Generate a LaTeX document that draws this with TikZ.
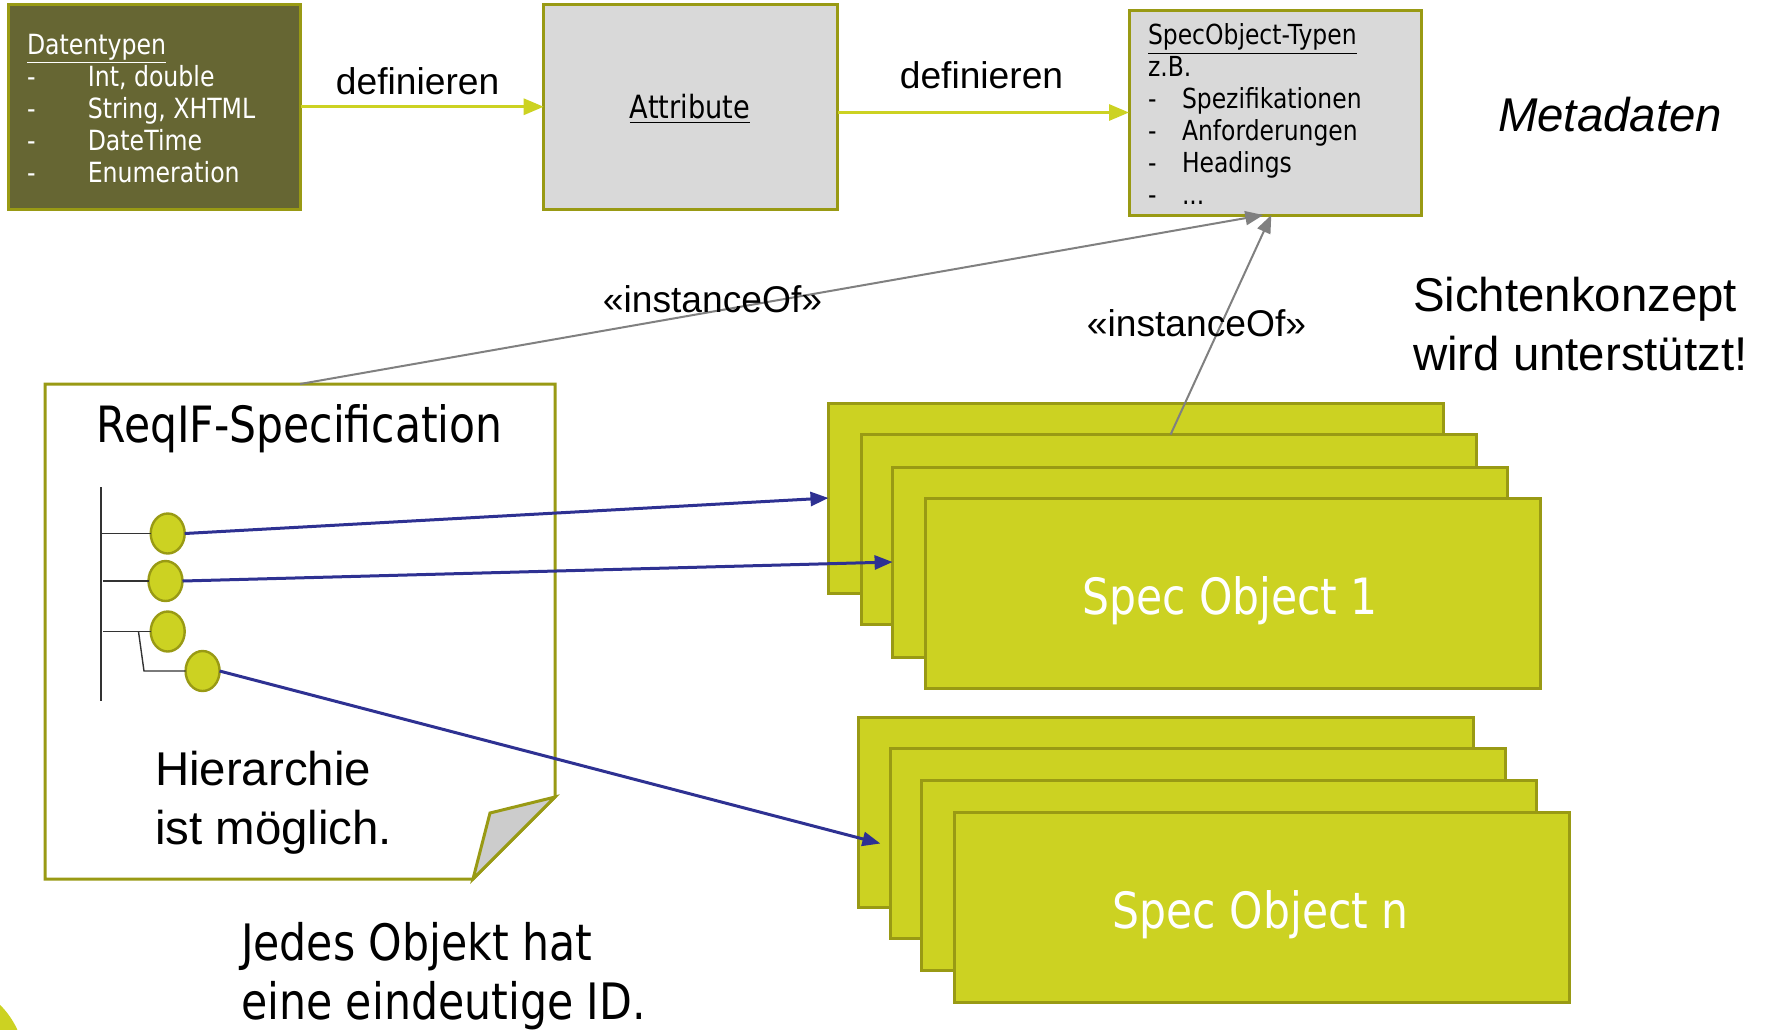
\documentclass[tikz,border=0pt]{standalone}
\usepackage{fontspec}
\setmainfont{Liberation Sans}
\newfontfamily\tah{DejaVu Sans}[FakeStretch=0.85]
\usetikzlibrary{arrows.meta,shapes.geometric}
\definecolor{olivedark}{HTML}{666633}
\definecolor{oliveline}{HTML}{999A14}
\definecolor{lime}{HTML}{CCD222}
\definecolor{boxgray}{HTML}{D9D9D9}
\definecolor{foldgray}{HTML}{CCCCCC}
\definecolor{arrgray}{HTML}{808080}
\definecolor{navy}{HTML}{2E3192}
\definecolor{treegray}{HTML}{333333}
\begin{document}
\begin{tikzpicture}[x=0.5pt,y=-0.5pt,
  every node/.style={inner sep=0pt, outer sep=0pt},
  dtbox/.style={draw=oliveline, fill=olivedark, line width=1.5pt, minimum width=146.25pt, minimum height=102.25pt, anchor=north west},
  graybox/.style={draw=oliveline, fill=boxgray, line width=1.5pt, anchor=north west},
  sobox/.style={draw=oliveline, fill=lime, line width=1.5pt, minimum width=307.5pt, minimum height=95pt, anchor=north west},
  bubble/.style={ellipse, draw=oliveline, fill=lime, line width=1.2pt, minimum width=17pt, minimum height=20pt},
  defarrow/.style={draw=lime, line width=1.5pt, -{Triangle[length=10pt,width=8pt]}},
  instarrow/.style={draw=arrgray, line width=1pt, -{Triangle[length=9pt,width=7pt]}},
  linkarrow/.style={draw=navy, line width=1.5pt, -{Triangle[length=9pt,width=7pt]}},
  treeline/.style={draw=treegray, line width=0.7pt},
  noteline/.style={draw=oliveline, line width=1.5pt},
  arialbig/.style={font=\fontsize{23.7pt}{29.2pt}\selectfont},
  arialmid/.style={font=\fontsize{18.6pt}{22pt}\selectfont},
  sotext/.style={text=white, font=\tah\fontsize{25pt}{28pt}\selectfont}
]
\useasboundingbox (0,0) rectangle (1765,1029);
\fill[white] (0,0) rectangle (1765,1029);
\begin{scope}
  \clip (0,0) rectangle (1765,1029);
  \fill[lime] (-60,1065) circle[radius=42.5pt];
\end{scope}

% top boxes
\node[dtbox] (dt) at (8,4.5) {};
\node[anchor=north west, text=white, align=left, font=\tah\fontsize{13.9pt}{16pt}\selectfont] (dttext) at (27,34)
  {\underline{Datentypen}\\\makebox[30.4pt][l]{-}Int, double\\\makebox[30.4pt][l]{-}String, XHTML\\\makebox[30.4pt][l]{-}DateTime\\\makebox[30.4pt][l]{-}Enumeration};
\node[graybox, minimum width=146.9pt, minimum height=102.25pt] (attr) at (543.7,4.5) {};
\node[font=\tah\fontsize{16pt}{20pt}\selectfont] (attrtext) at (690,109) {\underline{Attribute}};
\node[graybox, minimum width=146.3pt, minimum height=102.5pt] (sot) at (1129,10) {};
\node[anchor=north west, align=left, font=\tah\fontsize{13.8pt}{16pt}\selectfont] (sottext) at (1148,23.5)
  {\underline{SpecObject-Typen}\\z.B.\\\makebox[17pt][l]{-}Spezifikationen\\\makebox[17pt][l]{-}Anforderungen\\\makebox[17pt][l]{-}Headings\\\makebox[17pt][l]{-}...};

\draw[defarrow] (dt.east) -- (attr.west);
\draw[defarrow] (attr.east |- sot.west) -- (sot.west);
\node[arialmid] (def1) at (417.6,81) {definieren};
\node[arialmid] (def2) at (981.5,75.4) {definieren};

\node[arialbig] (meta) at (1610,115) {\itshape Metadaten};
\node[arialbig, anchor=west, align=left] (sicht) at (1413,324) {Sichtenkonzept\\wird unterstützt!};

% note
\node[minimum width=255pt, minimum height=247.5pt, anchor=north west] (spec) at (45,384) {};
\coordinate (fold1) at (555,797);
\coordinate (fold2) at (473,879);
\coordinate (foldin) at (490,813);
\draw[noteline, fill=white] (spec.north west) -- (spec.north east) -- (fold1) -- (fold2) -- (spec.south west) -- cycle;
\filldraw[noteline, fill=foldgray] (fold1) -- (foldin) -- (fold2) -- cycle;
\node[font=\tah\fontsize{25pt}{29pt}\selectfont] (reqif) at (299.4,428.5) {ReqIF-Specification};
\node[arialbig, anchor=west, align=left, font=\fontsize{23.7pt}{29.7pt}\selectfont] (hier) at (155,803) {Hierarchie\\ist möglich.};

% tree
\coordinate (trunktop) at (101,487);
\coordinate (trunkbot) at (101,701);
\draw[treeline] (trunktop) -- (trunkbot);
\node[bubble] (c1) at (167.7,533.5) {};
\node[bubble] (c2) at (165.5,581) {};
\node[bubble] (c3) at (167.7,631.5) {};
\node[bubble] (c4) at (202.6,671) {};
\draw[treeline] (c1.west -| trunktop) -- (c1.west);
\draw[treeline] ([xshift=1pt]c2.west -| trunktop) -- (c2.west);
\draw[treeline] ([xshift=1pt]c3.west -| trunktop) -- (c3.west);
\coordinate (sb) at (138.5,631.5);
\coordinate (sbk) at (144,671);
\draw[treeline] (sb) -- (sbk) -- (c4.west);

% spec object stacks
\node[sobox] (s1a) at (828.5,403) {};
\node[sobox] (s1b) at (861,434.5) {};
\node[sobox] (s1c) at (892.6,467) {};
\node[sobox] (s1d) at (925,498.6) {};
\node[sotext] (so1) at (1230,600.5) {Spec Object 1};
\node[sobox] (s2a) at (858.8,717) {};
\node[sobox] (s2b) at (890.4,748.5) {};
\node[sobox] (s2c) at (921.9,780) {};
\node[sobox] (s2d) at (954.5,812.7) {};
\node[sotext] (son) at (1260.7,914.5) {Spec Object n};

% instanceOf
\coordinate (st) at ([xshift=154.8pt]s1b.north west);
\draw[instarrow] (spec.north) -- ([xshift=-6pt]sot.south);
\draw[instarrow] (st) -- ([xshift=-2pt]sot.south);
\node[arialmid] (inst1) at (712.5,299.5) {«instanceOf»};
\node[arialmid] (inst2) at (1196.5,323) {«instanceOf»};

% links
\coordinate (t3) at ([xshift=-5pt]s2b.west);
\draw[linkarrow] (c1.east) -- (s1a.west);
\draw[linkarrow] (c2.east) -- (s1c.west);
\draw[linkarrow] (c4.east) -- (t3);

\node[anchor=west, align=left, font=\tah\fontsize{25.1pt}{29.5pt}\selectfont] (jedes) at (241,976) {Jedes Objekt hat\\eine eindeutige ID.};
\end{tikzpicture}
\end{document}
